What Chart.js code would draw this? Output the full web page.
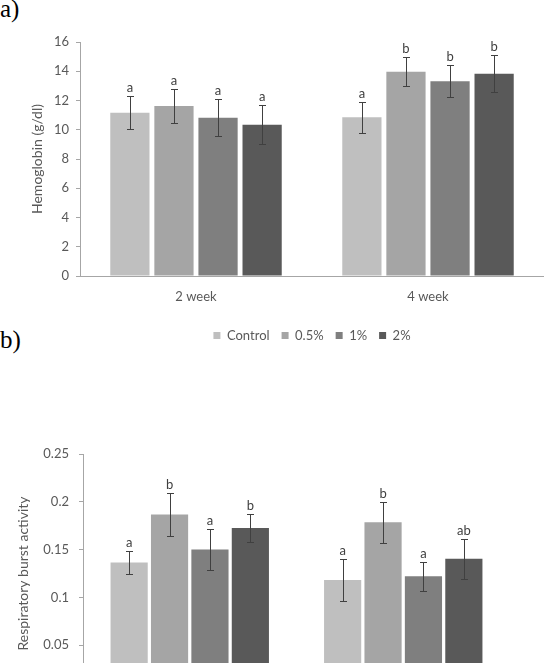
<!DOCTYPE html>
<html>
<head>
<meta charset="utf-8">
<script src="https://cdn.jsdelivr.net/npm/chart.js@4"></script>
<style>
html, body { margin: 0; padding: 0; background: #fff; }
body { width: 544px; height: 663px; overflow: hidden; position: relative; }
.lbl { position: absolute; left: 0; font-family: "Liberation Serif", "DejaVu Serif", serif; font-size: 25px; color: #000; line-height: 1; }
#canvasA { position: absolute; left: 0; top: 0; }
#canvasB { position: absolute; left: 0; top: 410px; }
</style>
</head>
<body>
<div class="lbl" style="top:-4px">a)</div>
<div class="lbl" style="top:327px">b)</div>
<canvas id="canvasA" width="544" height="352"></canvas>
<canvas id="canvasB" width="544" height="330"></canvas>
<script>
// categorias e series
const categories = ['2 week', '4 week'];
const seriesNames = ['Control', '0.5%', '1%', '2%'];
const seriesColors = ['#bfbfbf', '#a5a5a5', '#7f7f7f', '#595959'];

// (a) Hemoglobin (g/dl)
const hbControl = [11.16, 10.86];
const hb05 = [11.63, 13.97];
const hb1 = [10.82, 13.32];
const hb2 = [10.34, 13.83];
const hbErrControl = [1.12, 1.05];
const hbErr05 = [1.15, 1.0];
const hbErr1 = [1.25, 1.1];
const hbErr2 = [1.33, 1.27];
const hbLetters = [['a', 'a'], ['a', 'b'], ['a', 'b'], ['a', 'b']];
const hbTicks = ['0', '2', '4', '6', '8', '10', '12', '14', '16'];

// (b) Respiratory burst activity
const rbControl = [0.1365, 0.1183];
const rb05 = [0.1867, 0.1787];
const rb1 = [0.150, 0.1222];
const rb2 = [0.1727, 0.1403];
const rbErrControl = [0.0125, 0.0216];
const rbErr05 = [0.0225, 0.0216];
const rbErr1 = [0.0215, 0.0152];
const rbErr2 = [0.015, 0.0206];
const rbLetters = [['a', 'a'], ['b', 'b'], ['a', 'a'], ['b', 'ab']];
const rbTicks = ['0', '0.05', '0.1', '0.15', '0.2', '0.25'];

const textColor = '#595959';
const axisColor = '#a6a6a6';
const fontFamily = 'Lato, "Open Sans", sans-serif';

// desenha barras de erro e letras usando as escalas do grafico
const errorBarPlugin = {
    id: 'errorBars',
    afterDatasetsDraw(chart) {
        const ctx = chart.ctx;
        const yScale = chart.scales.y;
        ctx.save();
        chart.data.datasets.forEach((ds, di) => {
            const meta = chart.getDatasetMeta(di);
            meta.data.forEach((bar, i) => {
                const v = ds.data[i];
                const e = ds.errors[i];
                const top = Math.round(yScale.getPixelForValue(v + e)) + 0.5;
                const bot = Math.round(yScale.getPixelForValue(v - e)) + 0.5;
                const x = Math.round(bar.x) + 0.5;
                ctx.strokeStyle = '#404040';
                ctx.lineWidth = 1;
                ctx.beginPath();
                ctx.moveTo(x, top);
                ctx.lineTo(x, bot);
                ctx.moveTo(x - 3.5, top);
                ctx.lineTo(x + 3.5, top);
                ctx.moveTo(x - 3.5, bot);
                ctx.lineTo(x + 3.5, bot);
                ctx.stroke();
                ctx.fillStyle = '#404040';
                ctx.font = '13px ' + fontFamily;
                ctx.textAlign = 'center';
                ctx.textBaseline = 'alphabetic';
                ctx.fillText(ds.letters[i], bar.x, top - 5);
            });
        });
        ctx.restore();
    }
};

function buildDatasets(values, errors, letters) {
    return values.map((vals, k) => ({
        label: seriesNames[k],
        data: vals,
        errors: errors[k],
        letters: letters[k],
        backgroundColor: seriesColors[k],
        borderWidth: 0
    }));
}

// grafico (a)
new Chart(document.getElementById('canvasA'), {
    type: 'bar',
    data: {
        labels: categories,
        datasets: buildDatasets([hbControl, hb05, hb1, hb2],
            [hbErrControl, hbErr05, hbErr1, hbErr2], hbLetters)
    },
    options: {
        responsive: false,
        animation: false,
        datasets: { bar: { categoryPercentage: 0.76, barPercentage: 0.89 } },
        layout: { padding: { top: 42, right: 0, left: 0, bottom: 0 } },
        scales: {
            x: {
                grid: { display: true, drawOnChartArea: false, drawTicks: false },
                border: { color: axisColor },
                ticks: { color: textColor, font: { family: fontFamily, size: 13 }, padding: 13 },
                afterFit: (s) => { s.height = 41; }
            },
            y: {
                min: 0, max: 16,
                ticks: {
                    stepSize: 2, color: textColor, padding: 7,
                    font: { family: fontFamily, size: 13 },
                    callback: (v, i) => hbTicks[i]
                },
                grid: { display: true, drawOnChartArea: false, tickLength: 4, color: axisColor },
                border: { color: axisColor },
                title: {
                    display: true, text: 'Hemoglobin (g/dl)', color: textColor,
                    font: { family: fontFamily, size: 14 }, padding: { top: 29, bottom: 0 }
                },
                afterFit: (s) => { s.width = 80; }
            }
        },
        plugins: {
            legend: {
                position: 'bottom',
                fullSize: false,
                labels: {
                    boxWidth: 7, boxHeight: 7, padding: 12, color: textColor,
                    font: { family: fontFamily, size: 13 }
                }
            },
            tooltip: { enabled: false }
        }
    },
    plugins: [errorBarPlugin]
});

// grafico (b)
new Chart(document.getElementById('canvasB'), {
    type: 'bar',
    data: {
        labels: categories,
        datasets: buildDatasets([rbControl, rb05, rb1, rb2],
            [rbErrControl, rbErr05, rbErr1, rbErr2], rbLetters)
    },
    options: {
        responsive: false,
        animation: false,
        datasets: { bar: { categoryPercentage: 0.757, barPercentage: 0.92 } },
        layout: { padding: { top: 44, right: 34, left: 0, bottom: 0 } },
        scales: {
            x: {
                grid: { display: true, drawOnChartArea: false, drawTicks: false },
                border: { color: axisColor },
                ticks: { color: textColor, font: { family: fontFamily, size: 13 }, padding: 12 },
                afterFit: (s) => { s.height = 47; }
            },
            y: {
                min: 0, max: 0.25,
                ticks: {
                    stepSize: 0.05, color: textColor, padding: 10,
                    font: { family: fontFamily, size: 13 },
                    callback: (v, i) => rbTicks[i]
                },
                grid: { display: true, drawOnChartArea: false, tickLength: 4, color: axisColor },
                border: { color: axisColor },
                title: {
                    display: true, text: 'Respiratory burst activity', color: textColor,
                    font: { family: fontFamily, size: 14 }, padding: { top: 15, bottom: 0 }
                },
                afterFit: (s) => { s.width = 83; }
            }
        },
        plugins: {
            legend: { display: false },
            tooltip: { enabled: false }
        }
    },
    plugins: [errorBarPlugin]
});
</script>
</body>
</html>
